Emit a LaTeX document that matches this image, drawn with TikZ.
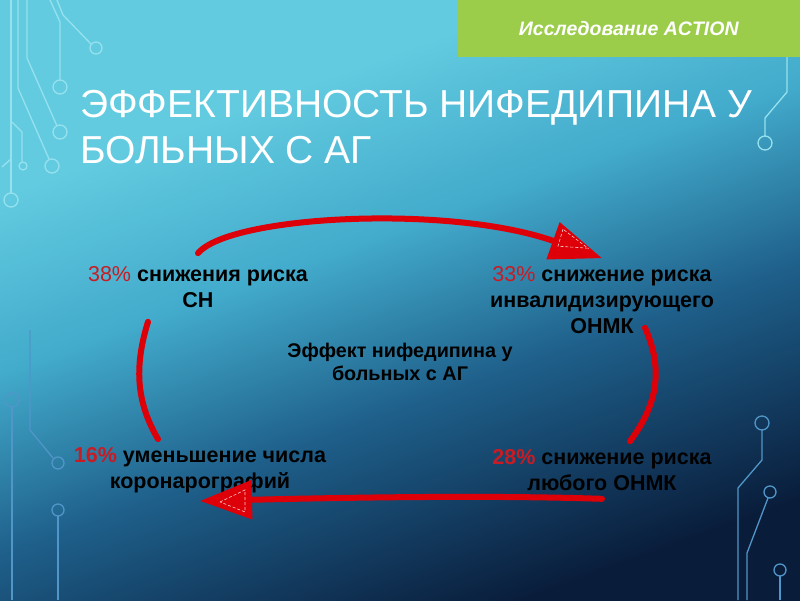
\documentclass[tikz,border=0pt]{standalone}
\usepackage{fontspec}
\setmainfont{Liberation Sans}
\usetikzlibrary{arrows.meta, positioning, calc}

\definecolor{bgA}{RGB}{98,203,224}
\definecolor{bgB}{RGB}{66,170,203}
\definecolor{bgC}{RGB}{30,95,138}
\definecolor{bgD}{RGB}{9,28,58}
\definecolor{banner}{RGB}{155,205,75}
\definecolor{arcred}{RGB}{222,0,8}
\definecolor{pctred}{RGB}{200,28,36}
\definecolor{tracelt}{RGB}{150,225,238}
\definecolor{tracedk}{RGB}{80,150,200}

\pgfdeclareverticalshading{bgshade}{100bp}{color(0bp)=(bgD); color(25bp)=(bgD); color(42bp)=(bgC); color(55bp)=(bgB); color(68bp)=(bgA); color(100bp)=(bgA)}

\newcommand{\pct}[1]{\textcolor{pctred}{\mdseries #1}}
\newcommand{\pctb}[1]{\textcolor{pctred}{#1}}

\begin{document}
\begin{tikzpicture}[x=1pt, y=-1pt,
  every node/.style={align=center, inner sep=8pt},
  txt/.style={font=\bfseries\fontsize{21.5}{26}\selectfont},
  hubtext/.style={font=\bfseries\fontsize{19.8}{23}\selectfont},
  redarc/.style={draw=arcred, line width=6pt, line cap=round},
  redarrow/.style={redarc, -{Triangle[length=52pt, width=38pt]}},
  tipmark/.style={draw=white, densely dashed, line width=0.6pt, opacity=0.8},
  wire/.style={draw=tracelt, line width=1.3pt},
  wiredk/.style={draw=tracedk, line width=1.3pt}]
  \useasboundingbox (0,0) rectangle (800,600);
  \shade[shading=bgshade, shading angle=20] (0,0) rectangle (800,600);

  % circuit traces
  \draw[wire] (11,0) -- (11,193);   \draw[wire] (11,200) circle (7pt);
  \draw[wire] (18,0) -- (18,88) -- (49,159);  \draw[wire] (52,166) circle (7pt);
  \draw[wire] (27,0) -- (27,58) -- (57,126);  \draw[wire] (60,132) circle (7pt);
  \draw[wire] (50,0) -- (60,22) -- (60,80);   \draw[wire] (60,87) circle (7pt);
  \draw[wire] (57,0) -- (63,15) -- (91,44);   \draw[wire] (96,48) circle (6pt);
  \draw[wire] (12,122) -- (22,132) -- (22,162); \draw[wire] (23,166) circle (4pt);
  \draw[wire] (2,167) -- (11,159);
  \draw[wire] (787,57) -- (787,92) -- (765,118) -- (765,136); \draw[wire] (765,143) circle (7pt);
  \draw[wiredk] (12,407) -- (12,600); \draw[wiredk] (12,400) circle (7pt);
  \draw[wiredk] (30,330) -- (30,430) -- (53,458); \draw[wiredk] (58,463) circle (6pt);
  \draw[wiredk] (58,516) -- (58,600); \draw[wiredk] (58,510) circle (6pt);
  \draw[wiredk] (762,430) -- (762,460) -- (738,488) -- (738,600); \draw[wiredk] (762,423) circle (7pt);
  \draw[wiredk] (768,498) -- (747,553) -- (747,600); \draw[wiredk] (770,492) circle (6pt);
  \draw[wiredk] (780,576) -- (780,600); \draw[wiredk] (780,570) circle (6pt);

  \node[fill=banner, minimum width=342pt, minimum height=57pt, anchor=north east,
    text=white, font=\bfseries\itshape\fontsize{19.5}{22}\selectfont] (study) at (800,0) {Исследование ACTION};
  \node[anchor=north west, inner sep=0, align=left, text=white,
    font=\fontsize{39}{46}\selectfont] (title) at (80,90) {ЭФФЕКТИВНОСТЬ НИФЕДИПИНА У\\БОЛЬНЫХ С АГ};

  \node[txt] (sn) at (198,287) {\pct{38\%} снижения риска\\СН};
  \node[txt] (inv) at (602,300) {\pct{33\%} снижение риска\\инвалидизирующего\\ОНМК};
  \node[hubtext] (eff) at (400,362) {Эффект нифедипина у\\больных с АГ};
  \node[txt] (cor) at (200,470) {\pctb{16\%} уменьшение числа\\коронарографий};
  \node[txt] (lub) at (602,470) {\pctb{28\%} снижение риска\\любого ОНМК};

  \draw[redarrow] ([yshift=5pt]sn.north) .. controls +(32,-38) and +(-152,-54) .. (inv.north);
  \draw[redarc] ([xshift=-50pt,yshift=-6pt]sn.south) .. controls +(-13,42) and +(-23,-39) .. ([xshift=-42pt]cor.north);
  \draw[redarc] ([xshift=43pt,yshift=14pt]inv.south) .. controls +(17,38) and +(30,-40) .. ([xshift=28pt]lub.north);
  \draw[redarrow] (lub.south) .. controls +(-122,-4) and +(130,-3) .. (cor.south);
  \draw[tipmark] ([shift={(-39,-29)}]inv.north) -- ([shift={(-44,-12)}]inv.north) -- ([shift={(-14,-10)}]inv.north) -- cycle;
  \draw[tipmark] ([shift={(20,1)}]cor.south) -- ([shift={(45,-11)}]cor.south) -- ([shift={(45,11)}]cor.south) -- cycle;
\end{tikzpicture}
\end{document}
